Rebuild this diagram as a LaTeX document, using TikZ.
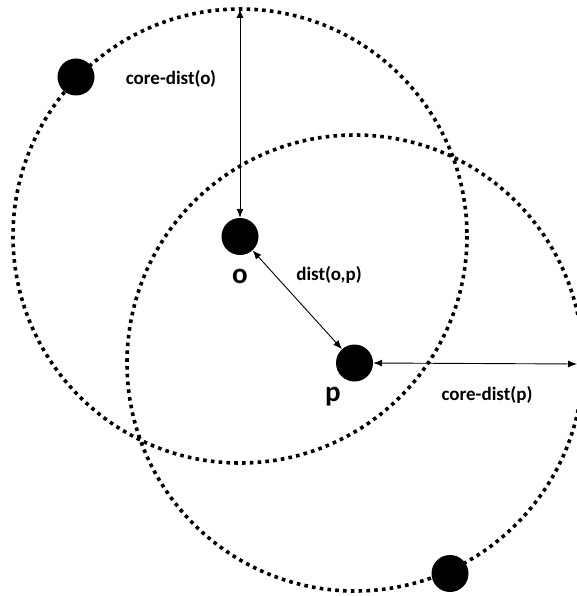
\documentclass[tikz,border=0pt]{standalone}
\usepackage{fontspec}
\setmainfont{Carlito}
\usetikzlibrary{arrows.meta}
\begin{document}
\begin{tikzpicture}[x=1pt,y=-1pt,
  ring/.style={line width=3.6pt, dash pattern=on 3.6pt off 4.2pt},
  dot/.style={circle, fill=black, minimum size=37pt, inner sep=0pt},
  dim/.style={line width=0.9pt, {Latex[length=9pt,width=7pt]}-{Latex[length=9pt,width=7pt]}},
  lbl/.style={font=\bfseries\fontsize{19}{21}\selectfont, inner sep=0pt},
  pname/.style={font=\bfseries\fontsize{29}{31}\selectfont, inner sep=0pt, anchor=base}]
\useasboundingbox (0,0) rectangle (577,596);
\clip (0,0) rectangle (577,596);
\draw[ring] (240,236) circle (227);
\draw[ring] (355,363) circle (228);
\node[dot] (o) at (240,236.5) {};
\node[dot] (p) at (354.5,363) {};
\node[dot] (a) at (76,77) {};
\node[dot] (b) at (450,573.5) {};
\coordinate (otop) at (240,9);
\coordinate (pright) at (577,364);
\draw[dim] (otop) -- (o);
\draw[dim] (o) -- (p);
\draw[dim] (p.east) -- (pright);
\node[lbl] (l1) at (171,79) {core-dist(o)};
\node[lbl] (l2) at (329,275) {dist(o,p)};
\node[lbl] (l3) at (487,395) {core-dist(p)};
\node[pname] (no) at (240,283) {o};
\node[pname] (np) at (333,401) {p};
\end{tikzpicture}
\end{document}
